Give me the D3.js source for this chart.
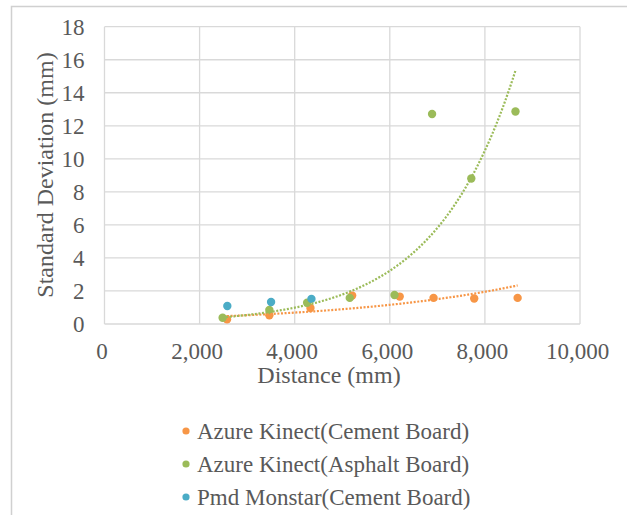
<!DOCTYPE html>
<html>
<head>
<meta charset="utf-8">
<script src="https://cdn.jsdelivr.net/npm/d3@7"></script>
<style>
  body { margin: 0; background: #fff; }
  svg { display: block; }
</style>
</head>
<body>
<svg id="chart" width="627" height="515"></svg>
<script>
// distances (mm) and standard deviations (mm)
var kinectCementX = [2577, 3467, 4331, 5208, 6208, 6920, 7775, 8688];
var kinectCementY = [0.28, 0.53, 0.97, 1.72, 1.66, 1.58, 1.54, 1.58];
var kinectAsphaltX = [2484, 3467, 4261, 5158, 6099, 6889, 7714, 8643];
var kinectAsphaltY = [0.38, 0.85, 1.29, 1.58, 1.76, 12.71, 8.81, 12.87];
var monstarCementX = [2583, 3503, 4352];
var monstarCementY = [1.09, 1.33, 1.52];

var seriesNames = ["Azure Kinect(Cement Board)", "Azure Kinect(Asphalt Board)", "Pmd Monstar(Cement Board)"];
var seriesColors = ["#F79646", "#9BBB59", "#4BACC6"];
var xTicks = [0, 2000, 4000, 6000, 8000, 10000];
var yTicks = [0, 2, 4, 6, 8, 10, 12, 14, 16, 18];

var series = [
    { name: seriesNames[0], color: seriesColors[0], xs: kinectCementX, ys: kinectCementY, trend: true },
    { name: seriesNames[1], color: seriesColors[1], xs: kinectAsphaltX, ys: kinectAsphaltY, trend: true },
    { name: seriesNames[2], color: seriesColors[2], xs: monstarCementX, ys: monstarCementY, trend: false }
];

var svg = d3.select("#chart");
var font = "'Liberation Serif', 'Times New Roman', serif";
var textColor = "#595959";

// outer chart frame (runs off the right/bottom edge)
svg.append("rect")
    .attr("x", 11.5).attr("y", 6.5)
    .attr("width", 700).attr("height", 600)
    .attr("fill", "none").attr("stroke", "#D0D0D0").attr("stroke-width", 1.5);

var x = d3.scaleLinear().domain([0, 10000]).range([104.5, 580]);
var y = d3.scaleLinear().domain([0, 18]).range([324, 26.7]);

var g = svg.append("g");

// gridlines
g.selectAll(".hgrid").data(yTicks).enter().append("line")
    .attr("x1", x(0)).attr("x2", x(10000))
    .attr("y1", function(d) { return y(d); })
    .attr("y2", function(d) { return y(d); })
    .attr("stroke", "#D9D9D9").attr("stroke-width", 1.3);

g.selectAll(".vgrid").data(xTicks).enter().append("line")
    .attr("y1", y(0)).attr("y2", y(18))
    .attr("x1", function(d) { return x(d); })
    .attr("x2", function(d) { return x(d); })
    .attr("stroke", "#D9D9D9").attr("stroke-width", 1.3);

// axes (labels only, Excel style)
var yAxis = d3.axisLeft(y).tickValues(yTicks).tickSize(0).tickPadding(20);
var xAxis = d3.axisBottom(x).tickValues(xTicks).tickSize(0).tickPadding(19)
    .tickFormat(d3.format(","));

var ya = g.append("g").attr("transform", "translate(" + x(0) + ",0)").call(yAxis);
var xa = g.append("g").attr("transform", "translate(-3," + y(0) + ")").call(xAxis);
[ya, xa].forEach(function(a) {
    a.select(".domain").remove();
    a.selectAll("text")
        .attr("font-family", font)
        .attr("font-size", 23)
        .attr("fill", textColor);
});

// axis titles
svg.append("text")
    .attr("transform", "translate(53,175) rotate(-90)")
    .attr("text-anchor", "middle")
    .attr("font-family", font).attr("font-size", 24)
    .attr("fill", textColor)
    .text("Standard Deviation (mm)");

svg.append("text")
    .attr("x", 329).attr("y", 383)
    .attr("text-anchor", "middle")
    .attr("font-family", font).attr("font-size", 24)
    .attr("fill", textColor)
    .text("Distance (mm)");

// exponential trendline: least squares on ln(y)
function expFit(xs, ys) {
    var n = xs.length;
    var lys = ys.map(function(v) { return Math.log(v); });
    var mx = d3.mean(xs), my = d3.mean(lys);
    var sxy = 0, sxx = 0;
    for (var i = 0; i < n; i++) {
        sxy += (xs[i] - mx) * (lys[i] - my);
        sxx += (xs[i] - mx) * (xs[i] - mx);
    }
    var b = sxy / sxx;
    var a = Math.exp(my - b * mx);
    return function(v) { return a * Math.exp(b * v); };
}

var line = d3.line()
    .x(function(d) { return x(d[0]); })
    .y(function(d) { return y(d[1]); });

// points
series.forEach(function(s) {
    var pts = s.xs.map(function(v, i) { return [v, s.ys[i]]; });
    g.append("g").selectAll("circle").data(pts).enter().append("circle")
        .attr("cx", function(d) { return x(d[0]); })
        .attr("cy", function(d) { return y(d[1]); })
        .attr("r", 4.2)
        .attr("fill", s.color);
});

// trendlines on top of the markers
series.forEach(function(s) {
    if (!s.trend) return;
    var f = expFit(s.xs, s.ys);
    var ext = d3.extent(s.xs);
    var samples = d3.range(0, 101).map(function(i) {
        var v = ext[0] + (ext[1] - ext[0]) * i / 100;
        return [v, f(v)];
    });
    g.append("path")
        .datum(samples)
        .attr("d", line)
        .attr("fill", "none")
        .attr("stroke", s.color)
        .attr("stroke-width", 2.2)
        .attr("stroke-dasharray", "2,1.6");
});

// legend
var legend = svg.append("g");
var rows = legend.selectAll("g").data(series).enter().append("g")
    .attr("transform", function(d, i) { return "translate(186," + (431 + i * 33) + ")"; });
rows.append("circle").attr("r", 3.6).attr("fill", function(d) { return d.color; });
rows.append("text")
    .attr("x", 11).attr("y", 8)
    .attr("font-family", font).attr("font-size", 23)
    .attr("fill", textColor)
    .text(function(d) { return d.name; });
</script>
</body>
</html>
